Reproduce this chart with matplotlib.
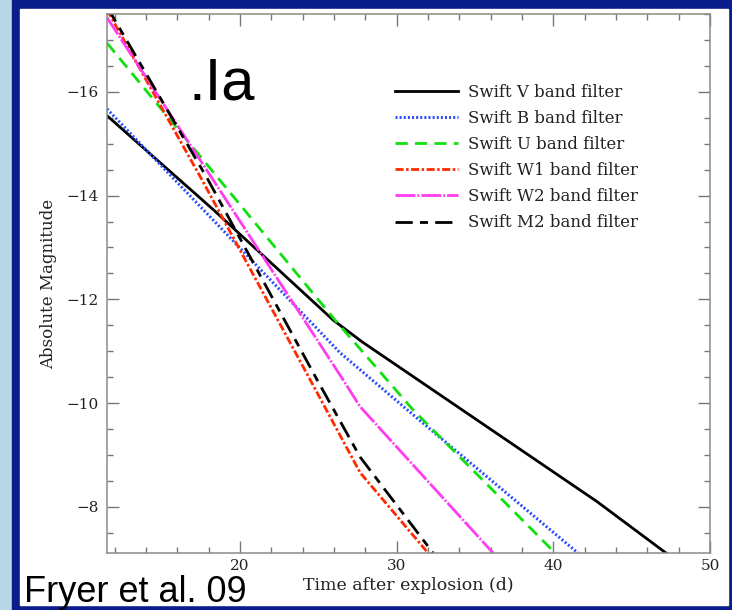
import matplotlib
matplotlib.use("Agg")
import matplotlib.pyplot as plt
from matplotlib.patches import Rectangle
from matplotlib.ticker import MultipleLocator

# light curve points (time in days, absolute magnitude)
v_t = [11.5, 18.28, 25.94, 27.79, 42.79, 47.19]
v_m = [-15.54, -13.73, -11.60, -11.18, -8.10, -7.11]

b_t = [11.5, 26.38, 31.49, 41.57]
b_m = [-15.67, -10.97, -9.66, -7.11]

u_t = [11.5, 26.06, 31.04, 40.11]
u_m = [-16.94, -11.60, -9.87, -7.11]

w1_t = [11.5, 17.57, 24.47, 27.66, 32.0]
w1_m = [-17.58, -14.30, -10.45, -8.66, -7.11]

w2_t = [11.5, 18.28, 26.57, 27.66, 36.15]
w2_m = [-17.43, -14.30, -10.45, -9.93, -7.11]

m2_t = [11.5, 17.96, 24.91, 27.66, 32.32]
m2_m = [-17.64, -14.30, -10.45, -8.96, -7.11]

labels = ["Swift V band filter", "Swift B band filter", "Swift U band filter",
          "Swift W1 band filter", "Swift W2 band filter", "Swift M2 band filter"]

W, H = 732, 610
fig = plt.figure(figsize=(W / 100, H / 100), dpi=100)

# slide background
bg = fig.add_axes([0, 0, 1, 1], zorder=-5)
bg.set_xlim(0, W)
bg.set_ylim(H, 0)
bg.axis("off")
bg.add_patch(Rectangle((0, 0), W, H, color="#b9d5e8"))
bg.add_patch(Rectangle((12, 0), W - 12, H, color="#0b1c8c"))
bg.add_patch(Rectangle((20, 9), 708, 596, color="white"))

ax = fig.add_axes([107 / W, 1 - 553 / H, (710 - 107) / W, (553 - 14) / H])

lw = 2.0
ax.plot(v_t, v_m, color="black", lw=lw, label=labels[0])
ax.plot(b_t, b_m, color="#2a4dff", lw=2.2, linestyle=(0, (0.65, 0.7)), label=labels[1])
ax.plot(u_t, u_m, color="#10e010", lw=lw, linestyle=(0, (4.4, 2.6)), label=labels[2])
ax.plot(w1_t, w1_m, color="#ff2a00", lw=lw, linestyle=(0, (2.9, 0.9, 0.9, 0.9)), label=labels[3])
ax.plot(w2_t, w2_m, color="#ff3cf0", lw=lw, linestyle=(0, (7.2, 0.7, 0.7, 0.7)), label=labels[4])
ax.plot(m2_t, m2_m, color="black", lw=lw, linestyle=(0, (6.2, 2.6, 2.9, 2.6)), label=labels[5])

ax.set_xlim(11.5, 50)
ax.set_ylim(-7.11, -17.5)
ax.xaxis.set_major_locator(MultipleLocator(10))
ax.xaxis.set_minor_locator(MultipleLocator(2))
ax.yaxis.set_major_locator(MultipleLocator(2))
ax.yaxis.set_minor_locator(MultipleLocator(0.5))

for s in ax.spines.values():
    s.set_color("#8a8a8a")
    s.set_linewidth(1.1)
ax.tick_params(which="both", direction="in", top=True, right=True, color="#777777",
               width=1.0, labelsize=11, labelcolor="#222222", pad=6)
ax.tick_params(axis="x", pad=4.5)
ax.tick_params(which="major", length=8.5)
ax.tick_params(which="minor", length=4.5)
for t in ax.get_xticklabels() + ax.get_yticklabels():
    t.set_family("DejaVu Serif")

ax.set_xlabel("Time after explosion (d)", family="DejaVu Serif", fontsize=12.5,
              color="#222222", labelpad=3)
ax.set_ylabel("Absolute Magnitude", family="DejaVu Serif", fontsize=12,
              color="#222222", labelpad=7)

leg = ax.legend(loc="upper left", bbox_to_anchor=(0.4776, 0.871), frameon=False,
                prop={"family": "DejaVu Serif", "size": 12}, handlelength=3.77,
                handletextpad=0.6, labelspacing=0.55, borderpad=0, borderaxespad=0)
for t in leg.get_texts():
    t.set_color("#222222")

ax.text(188, 100, ".Ia", transform=bg.transData, fontsize=43,
        family="Liberation Sans", va="baseline", ha="left")
fig.text(24 / W, 1 - 602 / H, "Fryer et al. 09", fontsize=26,
         family="Liberation Sans", va="baseline", ha="left")

fig.savefig("out.png", dpi=100)
